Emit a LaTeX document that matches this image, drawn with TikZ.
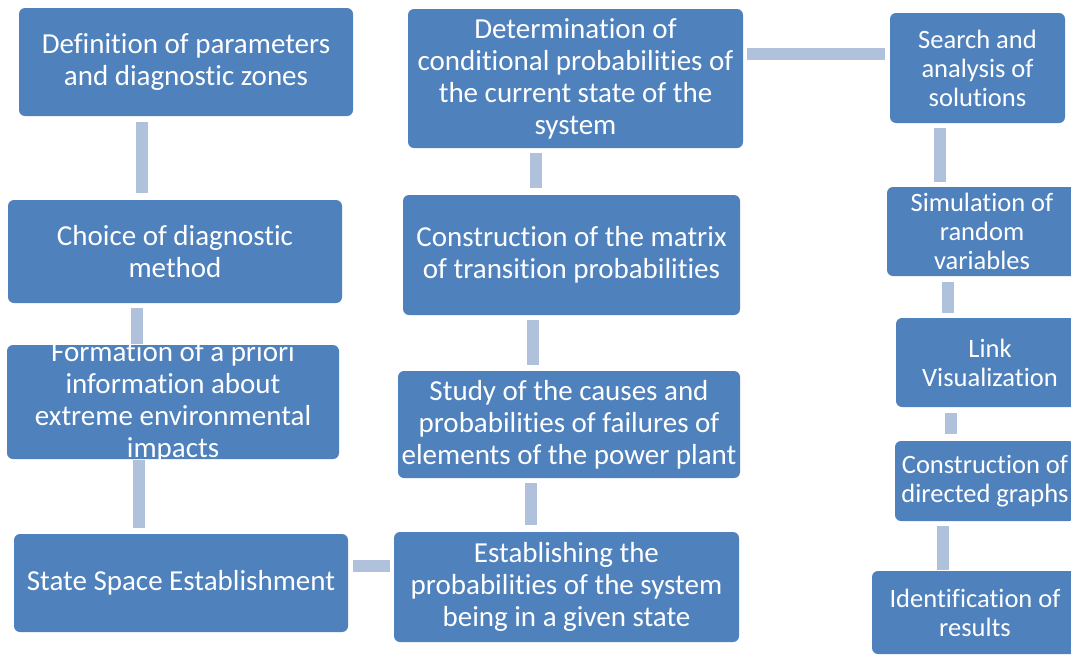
\documentclass[tikz,border=0pt]{standalone}
\usepackage{fontspec}
\setmainfont[Ligatures=NoCommon]{Carlito}
\definecolor{boxblue}{HTML}{4F81BD}
\definecolor{jointgray}{HTML}{B0C1DC}
\tikzset{
  box/.style={fill=boxblue, rounded corners=6pt, text=white, align=center,
    inner xsep=1pt, inner ysep=2pt, font=\fontsize{29}{32}\selectfont},
  rbox/.style={box, font=\fontsize{26.5}{29}\selectfont},
  joint/.style={draw=jointgray, line width=12pt},
}

\begin{document}
\begin{tikzpicture}[x=1pt,y=-1pt]
    \useasboundingbox (0,0) rectangle (1071,654);
    \clip (0,0) rectangle (1071,654);

    % Left column
    \node[box, minimum width=334pt, minimum height=108pt] (defin) at (186,62) {Definition of parameters\\and diagnostic zones};
    \node[box, minimum width=334pt, minimum height=103pt] (choice) at (175,251.5) {Choice of diagnostic\\method};
    \node[box, minimum width=332pt, minimum height=114pt, inner ysep=-6pt] (apriori) at (173,402) {Formation of a priori\\information about\\extreme environmental\\impacts};
    \node[box, minimum width=334pt, minimum height=98pt] (space) at (181,583) {State Space Establishment};

    % Middle column
    \node[box, minimum width=335pt, minimum height=139pt] (determ) at (575.5,78.5) {Determination of\\conditional probabilities of\\the current state of the\\system};
    \node[box, minimum width=337pt, minimum height=120pt] (matrix) at (571.5,255) {Construction of the matrix\\of transition probabilities};
    \node[box, minimum width=342pt, minimum height=107pt] (study) at (569,424.5) {Study of the causes and\\probabilities of failures of\\elements of the power plant};
    \node[box, minimum width=345pt, minimum height=110pt] (estab) at (566.5,587) {Establishing the\\probabilities of the system\\being in a given state};

    % Right column
    \node[rbox, minimum width=175pt, minimum height=110pt] (search) at (977.5,68) {Search and\\analysis of\\solutions};
    \node[rbox, minimum width=190pt, minimum height=89pt] (simul) at (982,231.5) {Simulation of\\random\\variables};
    \node[rbox, minimum width=188pt, minimum height=89pt] (visual) at (990,362.5) {Link\\Visualization};
    \node[rbox, minimum width=180pt, minimum height=80pt] (graphs) at (985,481) {Construction of\\directed graphs};
    \node[rbox, minimum width=206pt, minimum height=83pt] (ident) at (975,612.5) {Identification of\\results};

    % Connectors
    \draw[joint, shorten <=6pt, shorten >=7pt] ([xshift=-44pt]defin.south) -- ([xshift=-33pt]choice.north);
    \draw[joint, shorten <=5pt, shorten >=1pt] ([xshift=-38pt]choice.south) -- ([xshift=-36pt]apriori.north);
    \draw[joint, shorten <=1pt, shorten >=6pt] ([xshift=-34pt]apriori.south) -- ([xshift=-42pt]space.north);
    \draw[joint, shorten <=5pt, shorten >=4pt] ([yshift=17pt]space.east) -- ([yshift=21pt]estab.west);
    \draw[joint, shorten <=5pt, shorten >=7pt] ([xshift=-38pt]study.south) -- ([xshift=-35.5pt]estab.north);
    \draw[joint, shorten <=5pt, shorten >=6pt] ([xshift=-38.5pt]matrix.south) -- ([xshift=-36pt]study.north);
    \draw[joint, shorten <=5pt, shorten >=7pt] ([xshift=-39.5pt]determ.south) -- ([xshift=-35.5pt]matrix.north);
    \draw[joint, shorten <=4pt, shorten >=5pt] ([yshift=24.5pt]determ.east) -- ([yshift=14pt]search.west);
    \draw[joint, shorten <=5pt, shorten >=5pt] ([xshift=-37.5pt]search.south) -- ([xshift=-42pt]simul.north);
    \draw[joint, shorten <=6pt, shorten >=5pt] ([xshift=-34pt]simul.south) -- ([xshift=-42pt]visual.north);
    \draw[joint, shorten <=6pt, shorten >=7pt] ([xshift=-39pt]visual.south) -- ([xshift=-34pt]graphs.north);
    \draw[joint, shorten <=5pt, shorten >=1pt] ([xshift=-42pt]graphs.south) -- ([xshift=-32pt]ident.north);
\end{tikzpicture}
\end{document}
